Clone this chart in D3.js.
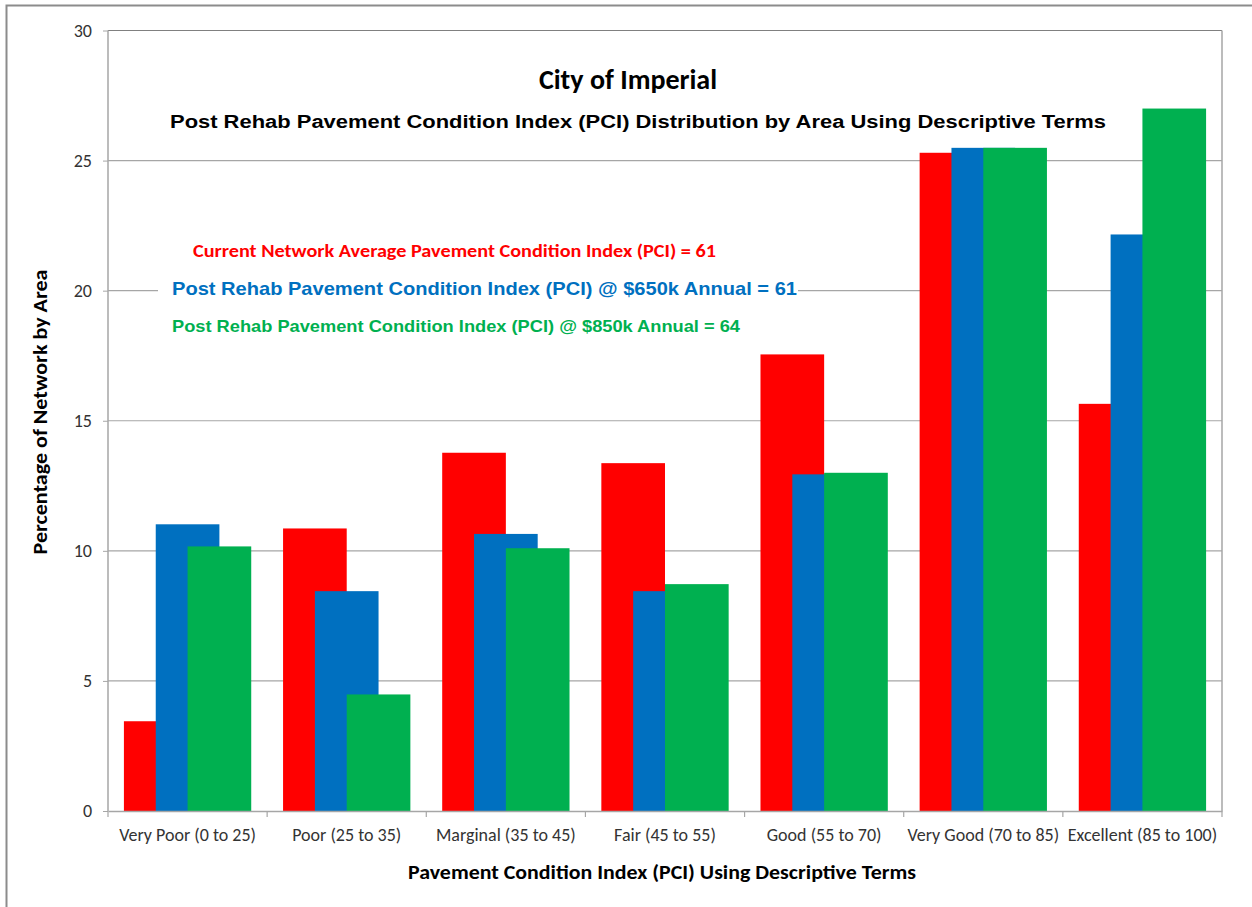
<!DOCTYPE html>
<html>
<head>
<meta charset="utf-8">
<script src="https://cdn.jsdelivr.net/npm/d3@7"></script>
<style>
  body { margin: 0; background: #fff; }
  .calibri { font-family: Carlito, Calibri, Lato, sans-serif; }
  .arial { font-family: "Liberation Sans", Arial, sans-serif; }
</style>
</head>
<body>
<div class="chart"></div>
<script>
var categories = ["Very Poor (0 to 25)", "Poor (25 to 35)", "Marginal (35 to 45)", "Fair (45 to 55)",
  "Good (55 to 70)", "Very Good (70 to 85)", "Excellent (85 to 100)"];
var seriesNames = ["Current", "Rehab650", "Rehab850"];
var currentValues = [3.45, 10.86, 13.77, 13.37, 17.55, 25.3, 15.65];
var rehab650Values = [11.02, 8.45, 10.65, 8.45, 12.94, 25.49, 22.16];
var rehab850Values = [10.17, 4.48, 10.1, 8.72, 13.0, 25.49, 27.0];
var yTicks = [0, 5, 10, 15, 20, 25, 30];
var legendLines = [
  "Current Network Average Pavement Condition Index (PCI) = 61",
  "Post Rehab Pavement Condition Index (PCI) @ $650k Annual = 61",
  "Post Rehab Pavement Condition Index (PCI) @ $850k Annual = 64"
];
var colors = ["#ff0000", "#0070c0", "#00b050"];

var svgWidth = 1252;
var svgHeight = 907;
var margin = { top: 30.5, right: 30, bottom: 96, left: 108 };
var width = 1222 - margin.left;
var height = 811 - margin.top;

var svg = d3.select(".chart")
  .append("svg")
  .attr("width", svgWidth)
  .attr("height", svgHeight);

// outer chart frame (cropped on right/bottom)
svg.append("rect")
  .attr("x", 6.5).attr("y", 5.5)
  .attr("width", 1300).attr("height", 1000)
  .attr("fill", "#fff")
  .attr("stroke", "#8c8c8c")
  .attr("stroke-width", 2);

var chartGroup = svg.append("g")
  .attr("transform", `translate(${margin.left}, ${margin.top})`);

var x0 = d3.scaleBand().domain(categories).range([0, width]).padding(0);
var bw = x0.bandwidth();
var x1 = d3.scaleBand().domain(seriesNames).range([bw * 0.1, bw * 0.7]);
var barWidth = x1.step() * 2;

var y = d3.scaleLinear().domain([0, 30]).range([height, 0]);

// gridlines
chartGroup.append("g")
  .selectAll("line")
  .data(yTicks.slice(1))
  .enter()
  .append("line")
  .attr("x1", 0).attr("x2", width)
  .attr("y1", d => y(d)).attr("y2", d => y(d))
  .attr("stroke", d => d === 30 ? "#808080" : "#a6a6a6")
  .attr("stroke-width", 1.2);

// right border
chartGroup.append("line")
  .attr("x1", width).attr("x2", width)
  .attr("y1", 0).attr("y2", height)
  .attr("stroke", "#a6a6a6").attr("stroke-width", 1.5);

// legend box (white, covers gridline)
chartGroup.append("rect")
  .attr("x", 158 - margin.left).attr("y", 232 - margin.top)
  .attr("width", 640).attr("height", 113)
  .attr("fill", "#fff");

// bars
var seriesData = [currentValues, rehab650Values, rehab850Values];
seriesData.forEach(function(values, si) {
  chartGroup.append("g")
    .selectAll("rect")
    .data(values)
    .enter()
    .append("rect")
    .attr("x", (d, i) => x0(categories[i]) + x1(seriesNames[si]))
    .attr("y", d => y(d))
    .attr("width", barWidth)
    .attr("height", d => height - y(d))
    .attr("fill", colors[si]);
});

// y axis
var leftAxis = d3.axisLeft(y).tickValues(yTicks).tickSize(5).tickPadding(11);
var yAxisG = chartGroup.append("g").call(leftAxis);
yAxisG.select(".domain").attr("stroke", "#a6a6a6").attr("stroke-width", 1.5)
  .attr("d", `M0,0V${height}`);
yAxisG.selectAll(".tick line").attr("stroke", "#a6a6a6");
yAxisG.selectAll(".tick text")
  .attr("class", "calibri")
  .style("font-size", "18px")
  .attr("fill", "#333");

// x axis
var bottomAxis = d3.axisBottom(x0).tickSize(0).tickPadding(17);
var xAxisG = chartGroup.append("g")
  .attr("transform", `translate(0, ${height})`)
  .call(bottomAxis);
xAxisG.select(".domain").attr("stroke", "#a6a6a6").attr("stroke-width", 1.5);
xAxisG.selectAll(".tick text")
  .attr("class", "calibri")
  .style("font-size", "18px")
  .attr("fill", "#333");
// category boundary ticks
xAxisG.append("g")
  .selectAll("line")
  .data(d3.range(categories.length + 1))
  .enter()
  .append("line")
  .attr("x1", i => i * bw).attr("x2", i => i * bw)
  .attr("y1", 0).attr("y2", 6)
  .attr("stroke", "#a6a6a6").attr("stroke-width", 1.2);

// titles
svg.append("text")
  .attr("class", "calibri")
  .attr("x", 628).attr("y", 89)
  .attr("text-anchor", "middle")
  .style("font-size", "28px").style("font-weight", "bold")
  .text("City of Imperial");

svg.append("text")
  .attr("class", "arial")
  .attr("x", 638).attr("y", 128)
  .attr("text-anchor", "middle")
  .style("font-size", "18px").style("font-weight", "bold")
  .attr("textLength", 936).attr("lengthAdjust", "spacingAndGlyphs")
  .text("Post Rehab Pavement Condition Index (PCI) Distribution by Area Using Descriptive Terms");

// legend text
var legendSpec = [
  { x: 193, y: 257, len: 523, size: "18px", cls: "calibri" },
  { x: 172, y: 295, len: 625, size: "19px", cls: "arial" },
  { x: 172, y: 332, len: 568, size: "16.5px", cls: "arial" }
];
legendSpec.forEach(function(s, i) {
  svg.append("text")
    .attr("class", s.cls)
    .attr("x", s.x).attr("y", s.y)
    .style("font-size", s.size).style("font-weight", "bold")
    .attr("fill", colors[i])
    .attr("textLength", s.len).attr("lengthAdjust", "spacingAndGlyphs")
    .text(legendLines[i]);
});

// axes labels
svg.append("text")
  .attr("class", "calibri")
  .attr("transform", "translate(47, 412) rotate(-90)")
  .attr("text-anchor", "middle")
  .style("font-size", "20px").style("font-weight", "bold")
  .attr("textLength", 285).attr("lengthAdjust", "spacingAndGlyphs")
  .text("Percentage of Network by Area");

svg.append("text")
  .attr("class", "calibri")
  .attr("x", 662).attr("y", 879)
  .attr("text-anchor", "middle")
  .style("font-size", "20px").style("font-weight", "bold")
  .attr("textLength", 508).attr("lengthAdjust", "spacingAndGlyphs")
  .text("Pavement Condition Index (PCI) Using Descriptive Terms");
</script>
</body>
</html>
